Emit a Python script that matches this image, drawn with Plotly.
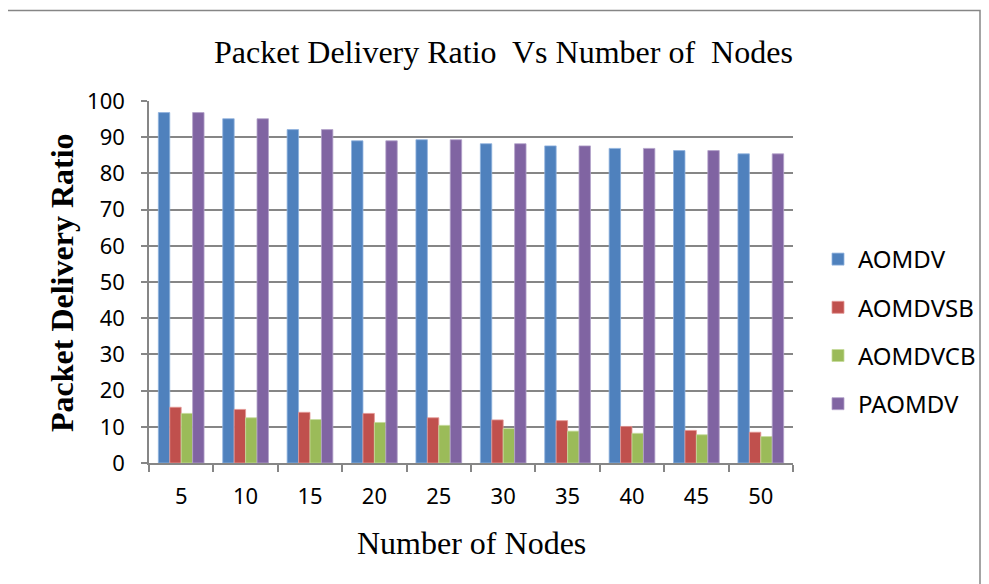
import plotly.graph_objects as go

categories = ["5", "10", "15", "20", "25", "30", "35", "40", "45", "50"]
aomdv = [96.8, 95.1, 92.1, 89.0, 89.3, 88.2, 87.6, 86.9, 86.3, 85.4]
aomdvsb = [15.4, 14.8, 14.0, 13.7, 12.5, 11.9, 11.7, 10.1, 9.0, 8.5]
aomdvcb = [13.7, 12.5, 12.0, 11.2, 10.4, 9.5, 8.8, 8.2, 7.8, 7.3]
paomdv = [96.8, 95.1, 92.1, 89.0, 89.3, 88.2, 87.6, 86.9, 86.3, 85.4]
series_names = ["AOMDV", "AOMDVSB", "AOMDVCB", "PAOMDV"]
y_ticks = [0, 10, 20, 30, 40, 50, 60, 70, 80, 90, 100]

colors = ["#4F81BD", "#C0504D", "#9BBB59", "#8064A2"]
edge = ["#8FB3DE", "#E59896", "#C5DA9A", "#B3A2C9"]

fig = go.Figure()
for name, vals, c, e in zip(series_names, [aomdv, aomdvsb, aomdvcb, paomdv], colors, edge):
    fig.add_trace(go.Bar(x=categories, y=vals, name=name, legendgroup=name,
                         marker=dict(color=c, line=dict(color=e, width=0.8))))

# page offset (body margin) compensation
OFF = 8
W, H = 989, 584
L, R, T, B = 149 - OFF, 196 + OFF, 101 - OFF, 121 + OFF
pw, ph = W - L - R, H - T - B

def px(x):
    return (x - OFF - L) / pw

def py(y):
    return (H - B - (y - OFF)) / ph

serif = "Liberation Serif, Times New Roman, serif"
sans = "Noto Sans, Open Sans, sans-serif"

fig.update_layout(
    width=W, height=H,
    margin=dict(l=L, r=R, t=T, b=B, pad=0),
    paper_bgcolor="white", plot_bgcolor="white",
    barmode="group", bargap=0.29, bargroupgap=0,
    showlegend=True,
    legend=dict(x=px(818), y=py(237), xanchor="left", yanchor="top",
                font=dict(family=sans, size=24, color="#000"),
                tracegroupgap=14, itemwidth=30, bgcolor="rgba(0,0,0,0)"),
    xaxis=dict(type="category", showline=True, linecolor="#868686", linewidth=1.5,
               ticks="outside", tickson="boundaries", ticklen=7, tickcolor="#868686",
               tickwidth=1.5, showgrid=False,
               tickfont=dict(family=sans, size=22, color="#000"),
               ticklabelstandoff=13),
    yaxis=dict(range=[0, 100], tickvals=y_ticks, showline=True, linecolor="#868686",
               linewidth=1.5, ticks="outside", ticklen=6, tickcolor="#868686",
               tickwidth=1.5, showgrid=True, gridcolor="#868686", gridwidth=1.5,
               zeroline=False,
               tickfont=dict(family=sans, size=22, color="#000"),
               ticklabelstandoff=12),
    annotations=[
        dict(text="Packet Delivery Ratio  Vs Number of  Nodes", xref="paper", yref="paper",
             x=px(503), y=py(52), showarrow=False, xanchor="center", yanchor="middle",
             font=dict(family=serif, size=32, color="#000")),
        dict(text="<b>Packet Delivery Ratio</b>", xref="paper", yref="paper",
             x=px(62), y=py(283), showarrow=False, textangle=-90,
             xanchor="center", yanchor="middle",
             font=dict(family=serif, size=32, color="#000")),
        dict(text="Number of Nodes", xref="paper", yref="paper",
             x=px(471), y=py(543), showarrow=False, xanchor="center", yanchor="middle",
             font=dict(family=serif, size=32, color="#000")),
    ],
    shapes=[dict(type="rect", xref="paper", yref="paper",
                 x0=px(4), x1=px(980), y0=py(600), y1=py(10.5),
                 line=dict(color="#868686", width=1.5), fillcolor="rgba(0,0,0,0)",
                 layer="below")],
)

fig.write_html("out.html")
